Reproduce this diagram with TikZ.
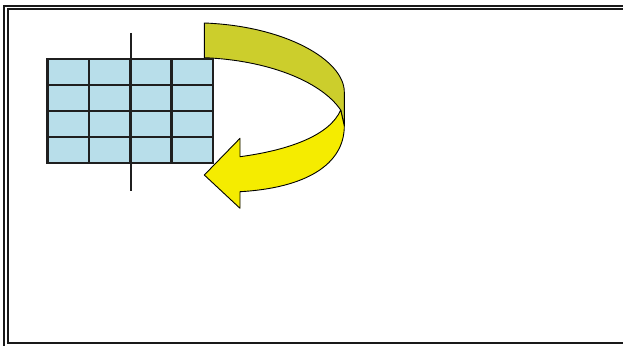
\documentclass[tikz,border=0pt]{standalone}
\usepackage{tikz}

\definecolor{cellblue}{RGB}{184,222,234}
\definecolor{ribbonolive}{RGB}{204,206,44}
\definecolor{ribbonyellow}{RGB}{245,236,0}

\begin{document}
\begin{tikzpicture}[x=1pt, y=-1pt, cell/.style={draw, rectangle, fill=cellblue, minimum width=41.3pt, minimum height=26pt, inner sep=0pt, outer sep=0pt, line width=2.6pt, draw=black!88}, frame/.style={line width=2pt, black!90}, axis/.style={line width=2.2pt, black!88}, ribbon/.style={draw, line width=0.9pt, line join=round}]
            \useasboundingbox (0,0) rectangle (623,345);
            % frame
            \draw [frame] (623,5.8) -- (3.8,5.8) -- (3.8,346);
            \draw [frame] (623,8.8) -- (7.8,8.8) -- (7.8,342.7) -- (623,342.7);
            % arrow
            \fill [ribbon, fill=ribbonolive] (204.3,23) .. controls (285,26) and (344.3,60) .. (344.3,92) -- (344.3,126) .. controls (343,118) .. (340.7,110) .. controls (320,80) and (265,60) .. (204.3,57.7) -- cycle;
            \fill [ribbon, fill=ribbonyellow] (340.7,110) .. controls (343,118) .. (344.3,126) .. controls (344.3,165) and (305,188) .. (240,191.7) -- (240,208.3) -- (204.3,175) -- (240,138.3) -- (240,156.7) .. controls (290,150) and (330,135) .. (340.7,110) -- cycle;
            % nodes
            \node[cell] (c11) at (68.35,72) {};
            \node[cell] (c12) at (109.65,72) {};
            \node[cell] (c13) at (150.95,72) {};
            \node[cell] (c14) at (192.25,72) {};

            \node[cell] (c21) at (68.35,98) {};
            \node[cell] (c22) at (109.65,98) {};
            \node[cell] (c23) at (150.95,98) {};
            \node[cell] (c24) at (192.25,98) {};

            \node[cell] (c31) at (68.35,124) {};
            \node[cell] (c32) at (109.65,124) {};
            \node[cell] (c33) at (150.95,124) {};
            \node[cell] (c34) at (192.25,124) {};

            \node[cell] (c41) at (68.35,150) {};
            \node[cell] (c42) at (109.65,150) {};
            \node[cell] (c43) at (150.95,150) {};
            \node[cell] (c44) at (192.25,150) {};

            \coordinate (axtop) at (130.7,33);
            \coordinate (axbot) at (130.7,190.7);
            % edges
            \draw [axis] (axtop) -- (axbot);
        \end{tikzpicture}
\end{document}
